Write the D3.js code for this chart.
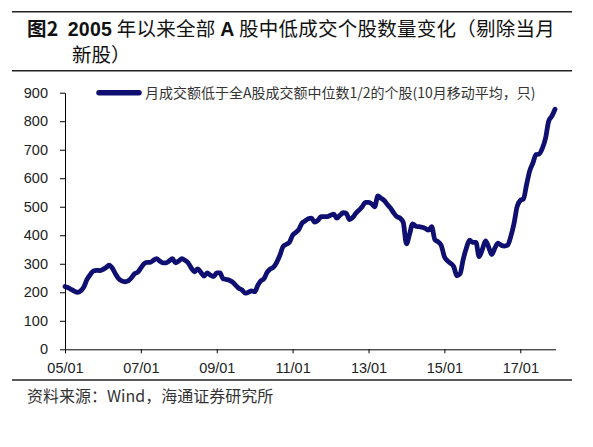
<!DOCTYPE html>
<html><head><meta charset="utf-8">
<script src="https://cdn.jsdelivr.net/npm/d3@7"></script>
<style>
html,body{margin:0;padding:0;background:#fff;}
svg{display:block;}
</style></head>
<body>
<svg id="c" width="593" height="447"></svg>
<script>
// ---- data (monthly, Jan 2005 .. Dec 2017) ----
const startYear = 2005;
const values = [
  220,216,210,204,200,205,218,245,262,275,277,276,   // 2005
  280,287,295,285,265,248,240,237,240,250,265,270,   // 2006
  285,300,305,305,312,318,310,303,303,310,318,303,   // 2007
  310,318,312,303,285,272,282,270,257,268,260,255,   // 2008
  268,268,248,245,242,236,225,214,208,197,200,205,   // 2009
  202,225,240,248,270,282,288,305,330,360,368,375,   // 2010
  400,410,420,442,450,458,460,446,452,465,465,465,   // 2011
  470,474,460,470,479,477,455,462,477,488,500,515,   // 2012
  515,510,500,538,530,522,508,495,478,465,460,445,   // 2013
  370,405,440,432,430,428,424,418,430,385,377,365,   // 2014
  325,310,302,290,258,265,315,355,383,375,375,325,   // 2015
  350,380,360,332,355,372,365,362,365,395,440,500,   // 2016
  522,528,575,625,652,683,685,705,740,800,818,842    // 2017
];
const xTickYears = [2005,2007,2009,2011,2013,2015,2017];
const yTicks = [0,100,200,300,400,500,600,700,800,900];
const titleLine1 = [
  {t:"图2", bold:true}, {t:"  "}, {t:"2005", bold:true, latin:true}, {t:" 年以来全部 "},
  {t:"A", bold:true, latin:true}, {t:" 股中低成交个股数量变化（剔除当月"}
];
const titleLine2 = "新股）";
const legendLabel = "月成交额低于全A股成交额中位数1/2的个股(10月移动平均，只)";
const sourceText = "资料来源：Wind，海通证券研究所";

// ---- layout ----
const svg = d3.select("#c");
const pLeft = 65, pRight = 555, pTop = 92.7, pBottom = 349.3;
const lineColor = "#0f0f72";
const textColor = "#222";
const cjk = "'Noto Sans CJK SC','Noto Sans',sans-serif";
const latin = "'Liberation Sans',Arial,sans-serif";

const data = values.map((v,i)=>({date:new Date(Date.UTC(startYear, i, 1)), v}));

const x = d3.scaleUtc()
  .domain([new Date(Date.UTC(startYear,0,1)), data[data.length-1].date])
  .range([pLeft, pRight]);
const y = d3.scaleLinear().domain([0,900]).range([pBottom, pTop]);

// separator lines
[11.7, 70.7, 380].forEach(yy=>{
  svg.append("line").attr("x1",12).attr("x2",572).attr("y1",yy).attr("y2",yy)
    .attr("stroke","#222").attr("stroke-width",1.4);
});

// title
const t1 = svg.append("text").attr("x",27).attr("y",36).attr("fill","#111")
  .style("font-size","19.5px").style("font-family",cjk).style("letter-spacing","0.25px")
  .attr("xml:space","preserve");
titleLine1.forEach(p=>{
  t1.append("tspan").text(p.t)
    .style("font-weight", p.bold ? "bold" : "normal")
    .style("font-family", p.latin ? latin : cjk);
});
svg.append("text").attr("x",72).attr("y",62).attr("fill","#111")
  .style("font-size","19.5px").style("font-family",cjk).text(titleLine2);

// axes
const yAxis = d3.axisLeft(y).tickValues(yTicks).tickSize(5).tickSizeOuter(0).tickPadding(12);
const gy = svg.append("g").attr("transform",`translate(${pLeft},0)`).call(yAxis);
gy.selectAll("text").style("font-family",latin).style("font-size","14.5px").attr("fill",textColor);
gy.selectAll("line,path").attr("stroke","#000");

const xAxis = d3.axisBottom(x)
  .tickValues(xTickYears.map(yr=>new Date(Date.UTC(yr,0,1))))
  .tickFormat(d3.utcFormat("%y/%m")).tickSize(4).tickSizeOuter(0).tickPadding(9.4);
const gx = svg.append("g").attr("transform",`translate(0,${pBottom})`).call(xAxis);
gx.selectAll("text").style("font-family",latin).style("font-size","14.5px").attr("fill",textColor);
gx.selectAll("line,path").attr("stroke","#000");
gx.select(".domain").attr("d",`M${pLeft},0.5H${pRight+1}`);

// line
const line = d3.line().x(d=>x(d.date)).y(d=>y(d.v)).curve(d3.curveMonotoneX);
svg.append("path").datum(data).attr("d",line)
  .attr("fill","none").attr("stroke",lineColor).attr("stroke-width",4.8)
  .attr("stroke-linejoin","round").attr("stroke-linecap","round");

// legend
svg.append("line").attr("x1",99).attr("x2",139).attr("y1",92.7).attr("y2",92.7)
  .attr("stroke",lineColor).attr("stroke-width",5.5).attr("stroke-linecap","round");
svg.append("text").attr("x",145).attr("y",97.8).attr("fill","#333")
  .style("font-size","14px").style("font-family",cjk).text(legendLabel);

// source
svg.append("text").attr("x",27).attr("y",401.5).attr("fill","#333")
  .style("font-size","16px").style("font-family",cjk).text(sourceText);
</script>
</body></html>
